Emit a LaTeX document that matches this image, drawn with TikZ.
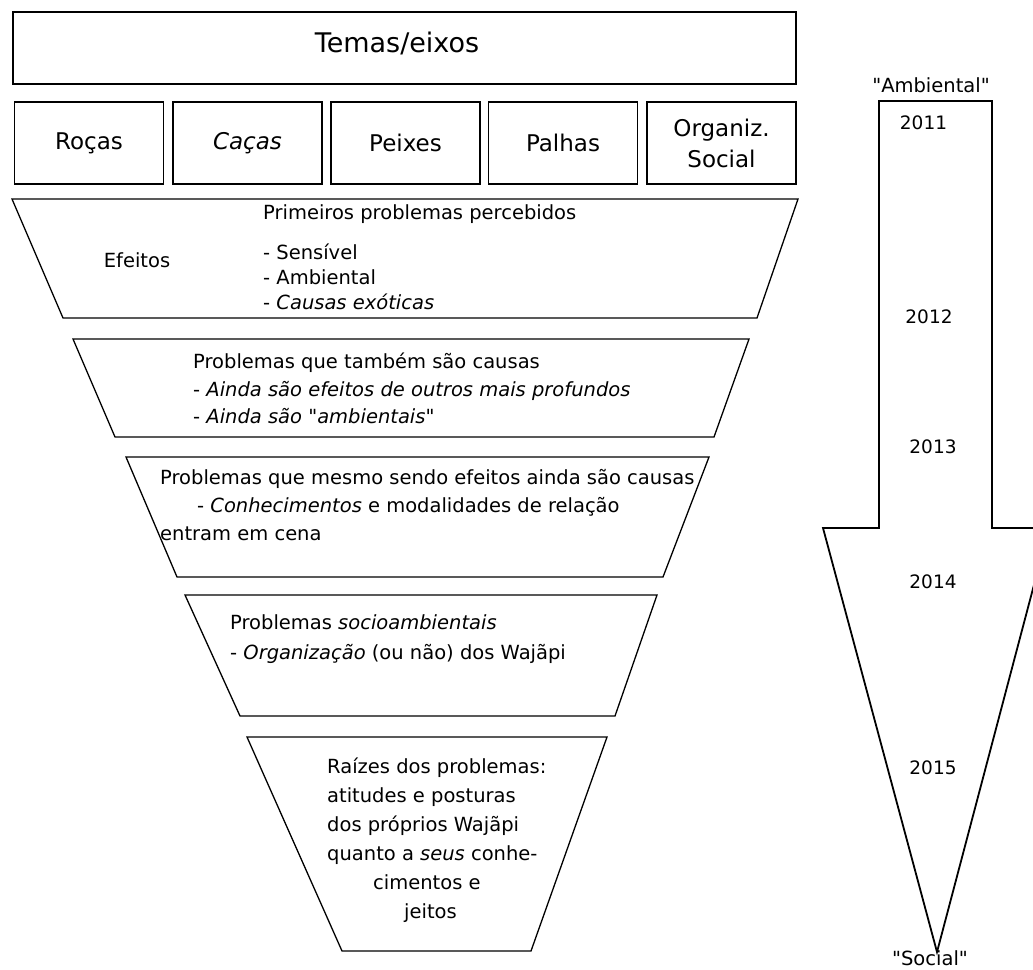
\documentclass[tikz,border=0pt]{standalone}
\usepackage{fontspec}
\setmainfont{DejaVu Sans}[Ligatures=TeXOff]
\usetikzlibrary{positioning}

\begin{document}
\begin{tikzpicture}[x=1pt, y=-1pt,
    every node/.style={font=\fontsize{19.5}{27}\selectfont, inner sep=0pt},
    eixo/.style={rectangle, draw, line width=1.8pt, minimum width=149pt, minimum height=82pt, align=center, font=\fontsize{23}{31}\selectfont},
    funil/.style={draw, line width=1.3pt},
    lista/.style={anchor=north west, align=left},
    ano/.style={font=\fontsize{18.5}{22}\selectfont},
    seta/.style={draw, line width=1.8pt}]

  \useasboundingbox (0,0) rectangle (1033,969);
  \clip (0,0) rectangle (1033,969);

  \node[eixo, minimum width=783pt, minimum height=72pt] (temasbox) at (404.5,48) {};
  \node[font=\fontsize{27}{32}\selectfont] (temas) at (397,43) {Temas/eixos};
  \node[eixo] (rocas)   at (89,143)    {Roças};
  \node[eixo] (cacas)   at (247.5,143) {\textit{Caças}};
  \node[eixo] (peixes)  at (405.5,143) {Peixes};
  \node[eixo] (palhas)  at (563,143)   {Palhas};
  \node[eixo] (organiz) at (721.5,143) {Organiz.\\Social};

  \draw[funil] (12,199) -- (798,199) -- (757,318) -- (63,318) -- cycle;
  \draw[funil] (73,339) -- (749,339) -- (714,437) -- (115,437) -- cycle;
  \draw[funil] (126,457) -- (709,457) -- (663,577) -- (177,577) -- cycle;
  \draw[funil] (185,595) -- (657,595) -- (615,716) -- (240,716) -- cycle;
  \draw[funil] (247,737) -- (607,737) -- (531,951) -- (342,951) -- cycle;

  \node (efeitos) at (137,260) {Efeitos};
  \node[lista, font=\fontsize{19.5}{25}\selectfont] (percebidos) at (263,204)
    {Primeiros problemas percebidos\\[15pt]- Sensível\\- Ambiental\\- \textit{Causas exóticas}};
  \node[lista, font=\fontsize{19.5}{27.5}\selectfont] (causas) at (193,353)
    {Problemas que também são causas\\- \textit{Ainda são efeitos de outros mais profundos}\\- \textit{Ainda são "ambientais"}};
  \node[lista, font=\fontsize{19.5}{28}\selectfont] (mesmo) at (160,469)
    {Problemas que mesmo sendo efeitos ainda são causas\\\hspace*{37pt}- \textit{Conhecimentos} e modalidades de relação\\entram em cena};
  \node[lista, font=\fontsize{19.5}{30}\selectfont] (socio) at (230,614)
    {Problemas \textit{socioambientais}\\- \textit{Organização} (ou não) dos Wajãpi};
  \node[lista, font=\fontsize{19.5}{29}\selectfont] (raizes) at (327,758)
    {Raízes dos problemas:\\atitudes e posturas\\dos próprios Wajãpi\\quanto a \textit{seus} conhe-\\\hspace*{46pt}cimentos e\\\hspace*{77pt}jeitos};

  \draw[seta] (879,101) -- (992,101) -- (992,528) -- (1049,528) -- (937,952) -- (823,528) -- (879,528) -- cycle;
  \node (ambiental) at (931,85) {"Ambiental"};
  \node (social) at (930,958) {"Social"};
  \node[ano] (a2011) at (923.5,123) {2011};
  \node[ano] (a2012) at (929,317) {2012};
  \node[ano] (a2013) at (933,447) {2013};
  \node[ano] (a2014) at (933,582) {2014};
  \node[ano] (a2015) at (933,768) {2015};
\end{tikzpicture}
\end{document}
